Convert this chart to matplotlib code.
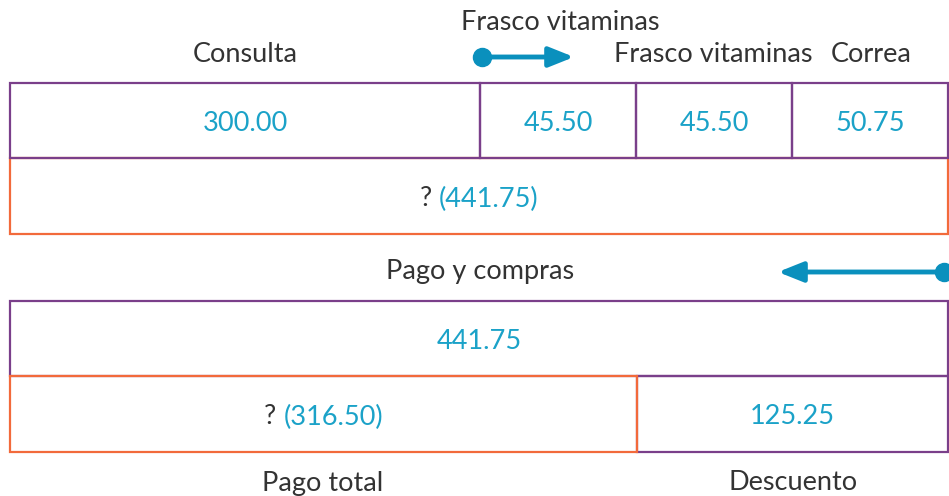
import matplotlib.pyplot as plt
from matplotlib.patches import Rectangle

# Data
top_labels = ['Consulta', 'Frasco vitaminas', 'Frasco vitaminas', 'Correa']
top_values = [300.00, 45.50, 45.50, 50.75]
total_purchases = 441.75
discount = 125.25
paid_total = total_purchases - discount

# Colors
purple = '#7a3f8a'
orange = '#f26a3b'
blue = '#1ba2c8'
arrow_blue = '#0a90bd'
dark = '#333333'

plt.rcParams['font.family'] = ['Lato', 'DejaVu Sans']

fig = plt.figure(figsize=(9.49, 4.96), dpi=100)
ax = fig.add_axes([0, 0, 1, 1])
ax.set_xlim(0, 949)
ax.set_ylim(496, 0)
ax.axis('off')

fs = 19.5
lw = 1.6
dy = 3  # small nudge so box text sits like the reference

# column edges (layout of the diagram, not proportional)
left, right = 10, 948
top_edges = [left, 480, 636, 792, right]
split_x = 637


def box(x0, x1, y0, y1, color):
    ax.add_patch(Rectangle((x0, y0), x1 - x0, y1 - y0, fill=False,
                           edgecolor=color, linewidth=lw, zorder=2))


def question_label(xc, yc, value):
    # "? (value)" with dark question mark and blue number, centered on xc
    r = fig.canvas.get_renderer()
    t1 = ax.text(0, yc, '? ', fontsize=fs, color=dark, va='center', ha='left')
    t2 = ax.text(0, yc, f'({value:.2f})', fontsize=fs, color=blue, va='center', ha='left')
    w1 = t1.get_window_extent(r).width
    w2 = t2.get_window_extent(r).width
    x_start = xc - (w1 + w2) / 2
    t1.set_x(x_start)
    t2.set_x(x_start + w1)


def arrow(x_from, x_to, y):
    ax.annotate('', xy=(x_to, y), xytext=(x_from, y),
                arrowprops=dict(arrowstyle='-|>,head_length=1.5,head_width=0.6',
                                color=arrow_blue, lw=3.5, shrinkA=0, shrinkB=0))
    ax.plot(x_from, y, 'o', color=arrow_blue, markersize=13, clip_on=False)


# ---- top diagram ----
y_a, y_b, y_c = 83, 158, 234
box(left, right, y_b, y_c, orange)
for i, v in enumerate(top_values):
    x0, x1 = top_edges[i], top_edges[i + 1]
    box(x0, x1, y_a, y_b, purple)
    ax.text((x0 + x1) / 2, (y_a + y_b) / 2 + dy, f'{v:.2f}', fontsize=fs,
            color=blue, ha='center', va='center')

label_x = [245, 560, 713, 871]
label_y = [55, 23, 55, 55]
for lab, x, y in zip(top_labels, label_x, label_y):
    ax.text(x, y, lab, fontsize=fs, color=dark, ha='center', va='center')

question_label((left + right) / 2, (y_b + y_c) / 2 + dy, sum(top_values))
arrow(482, 574, 57)

# ---- bottom diagram ----
ax.text(480, 271, 'Pago y compras', fontsize=fs, color=dark, ha='center', va='center')
arrow(944, 778, 272)

y_d, y_e, y_f = 301, 376, 452
box(left, right, y_d, y_e, purple)
ax.text((left + right) / 2, (y_d + y_e) / 2 + dy, f'{total_purchases:.2f}',
        fontsize=fs, color=blue, ha='center', va='center')

box(split_x, right, y_e, y_f, purple)
box(left, split_x, y_e, y_f, orange)
question_label((left + split_x) / 2, (y_e + y_f) / 2 + dy, paid_total)
ax.text((split_x + right) / 2, (y_e + y_f) / 2 + dy, f'{discount:.2f}',
        fontsize=fs, color=blue, ha='center', va='center')

ax.text(323, 483, 'Pago total', fontsize=fs, color=dark, ha='center', va='center')
ax.text(793, 483, 'Descuento', fontsize=fs, color=dark, ha='center', va='center')

plt.savefig('out.png', dpi=100)
